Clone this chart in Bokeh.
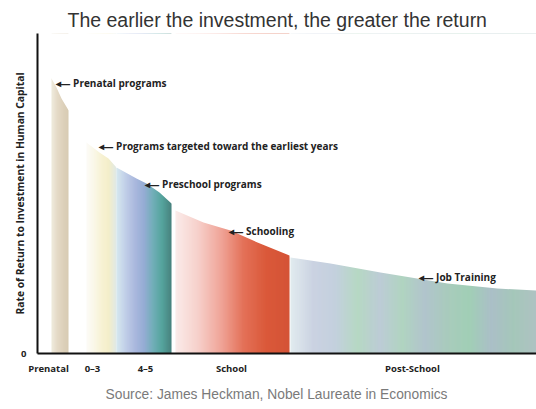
import numpy as np
from bokeh.plotting import figure
from bokeh.models import Range1d, FixedTicker, Label, Title
from bokeh.embed import file_html
from bokeh.resources import INLINE

# ---------------- data ----------------
stage_labels = ["Prenatal", "0–3", "4–5", "School", "Post-School"]
stage_ticks = [11, 55, 108, 194, 375]

prenatal_age = [14, 19, 24, 31]
prenatal_return = [85.9, 83.1, 79.7, 76.0]

early_age = [49, 62, 71, 79]
early_return = [65.9, 62.8, 60.9, 58.1]

preschool_age = [79, 99, 109, 122, 134]
preschool_return = [58.1, 54.7, 53.1, 50.3, 46.9]

school_age = [138, 166, 193, 220, 252]
school_return = [44.7, 40.9, 38.4, 34.7, 30.6]

post_age = [253, 293, 343, 410, 460, 499]
post_return = [30.0, 28.1, 25.3, 21.9, 20.3, 19.7]

annot_texts = ["Prenatal programs",
               "Programs targeted toward the earliest years",
               "Preschool programs",
               "Schooling",
               "Job Training"]

# ---------------- styling ----------------
segments = [
    (prenatal_age, prenatal_return, ["#eee9da", "#e3d8c4", "#dccfb8", "#d6c9b0"]),
    (early_age, early_return, ["#fcfbf6", "#faf7e6", "#f7f1d2", "#f3edc6", "#dfe8e4"]),
    (preschool_age, preschool_return, ["#d3e6ee", "#bccbe6", "#a6b4dc", "#8fa8d2", "#6aaab4", "#4c9f98", "#3f7c78"]),
    (school_age, school_return, ["#fbeae8", "#f6cdc7", "#ef9f92", "#e2694f", "#d8502f", "#d24a2c"]),
    (post_age, post_return, ["#dfeaee", "#c8d0e0", "#c0cedc", "#b2d6c0", "#b9c9d4", "#acd2bd",
                             "#adc1ca", "#a4c8b9", "#9cccb2", "#a6bcc4", "#a0c4b6", "#aabfbf"]),
]
annot_pos = [(18, 84.4), (61, 65.0), (107, 53.1), (191, 38.4), (381, 23.8)]
LABEL_FONT = "Open Sans"

TOP = 100.0


def hex_to_rgb(h):
    h = h.lstrip("#")
    return np.array([int(h[i:i + 2], 16) for i in (0, 2, 4)], dtype=float)


def gradient(stops, n):
    arr = np.array([hex_to_rgb(s) for s in stops])
    pos = np.linspace(0, 1, len(stops))
    t = np.linspace(0, 1, n)
    out = []
    for ti in t:
        c = [np.interp(ti, pos, arr[:, k]) for k in range(3)]
        out.append("#%02x%02x%02x" % tuple(int(round(v)) for v in c))
    return out


p = figure(width=536, height=409, output_backend="svg", toolbar_location=None,
           x_range=Range1d(0, 499), y_range=Range1d(0, TOP),
           min_border_left=37, min_border_right=0, min_border_top=33, min_border_bottom=56,
           background_fill_color="white", border_fill_color="white")
p.outline_line_color = None
p.grid.grid_line_color = None

# coloured bands (gradient made of thin slices), then a white mask above the curve
for xs, ys, stops in segments:
    x0, x1 = xs[0], xs[-1]
    n = int(max(2, (x1 - x0)))
    edges = np.linspace(x0, x1, n + 1)
    rights = np.minimum(edges[1:] + 0.4, x1)
    cols = gradient(stops, n)
    p.quad(left=edges[:-1], right=rights, bottom=0, top=TOP,
           fill_color=cols, line_color=None)
for xs, ys, stops in segments:
    mx = [xs[0] - 0.6] + list(xs) + [xs[-1] + 0.6]
    my = [ys[0]] + list(ys) + [ys[-1]]
    p.varea(x=mx, y1=my, y2=[TOP] * len(mx), fill_color="white")

for (ax, ay), txt in zip(annot_pos, annot_texts):
    p.add_layout(Label(x=ax, y=ay, text="◂— " + txt, text_font=LABEL_FONT,
                       text_font_size="10px", text_font_style="bold", text_color="#222",
                       text_baseline="middle", text_align="left"))

# axes
p.xaxis.ticker = FixedTicker(ticks=stage_ticks)
p.xaxis.major_label_overrides = {t: l for t, l in zip(stage_ticks, stage_labels)}
p.xaxis.major_tick_line_color = None
p.xaxis.major_tick_out = 0
p.xaxis.major_tick_in = 0
p.xaxis.minor_tick_line_color = None
p.xaxis.axis_line_width = 2
p.xaxis.axis_line_color = "#111"
p.xaxis.major_label_standoff = 8
p.xaxis.major_label_text_font = LABEL_FONT
p.xaxis.major_label_text_font_style = "bold"
p.xaxis.major_label_text_font_size = "9.5px"
p.xaxis.major_label_text_color = "#222"

p.yaxis.ticker = FixedTicker(ticks=[0])
p.yaxis.major_label_overrides = {0: "0"}
p.yaxis.major_tick_line_color = None
p.yaxis.major_tick_out = 0
p.yaxis.major_tick_in = 0
p.yaxis.minor_tick_line_color = None
p.yaxis.axis_line_width = 2
p.yaxis.axis_line_color = "#111"
p.yaxis.major_label_standoff = 11
p.yaxis.major_label_text_font = LABEL_FONT
p.yaxis.major_label_text_font_style = "bold"
p.yaxis.major_label_text_font_size = "9.5px"
p.yaxis.major_label_text_color = "#222"
p.yaxis.axis_label = "Rate of Return to Investment in Human Capital"
p.yaxis.axis_label_standoff = -9
p.yaxis.axis_label_text_font = LABEL_FONT
p.yaxis.axis_label_text_font_style = "bold"
p.yaxis.axis_label_text_font_size = "10.3px"
p.yaxis.axis_label_text_color = "#222"

p.title.text = "The earlier the investment, the greater the return"
p.title.align = "left"
p.title.offset = 30
p.title.standoff = 6
p.title.text_font = "Liberation Sans"
p.title.text_font_style = "normal"
p.title.text_font_size = "19.5px"
p.title.text_color = "#333"

p.add_layout(Title(text="Source: James Heckman, Nobel Laureate in Economics", align="left",
                   offset=68, standoff=15,
                   text_font="Liberation Sans", text_font_style="normal",
                   text_font_size="13.8px", text_color="#7a7a7a"), "below")

open("out.html", "w").write(file_html(p, INLINE))
